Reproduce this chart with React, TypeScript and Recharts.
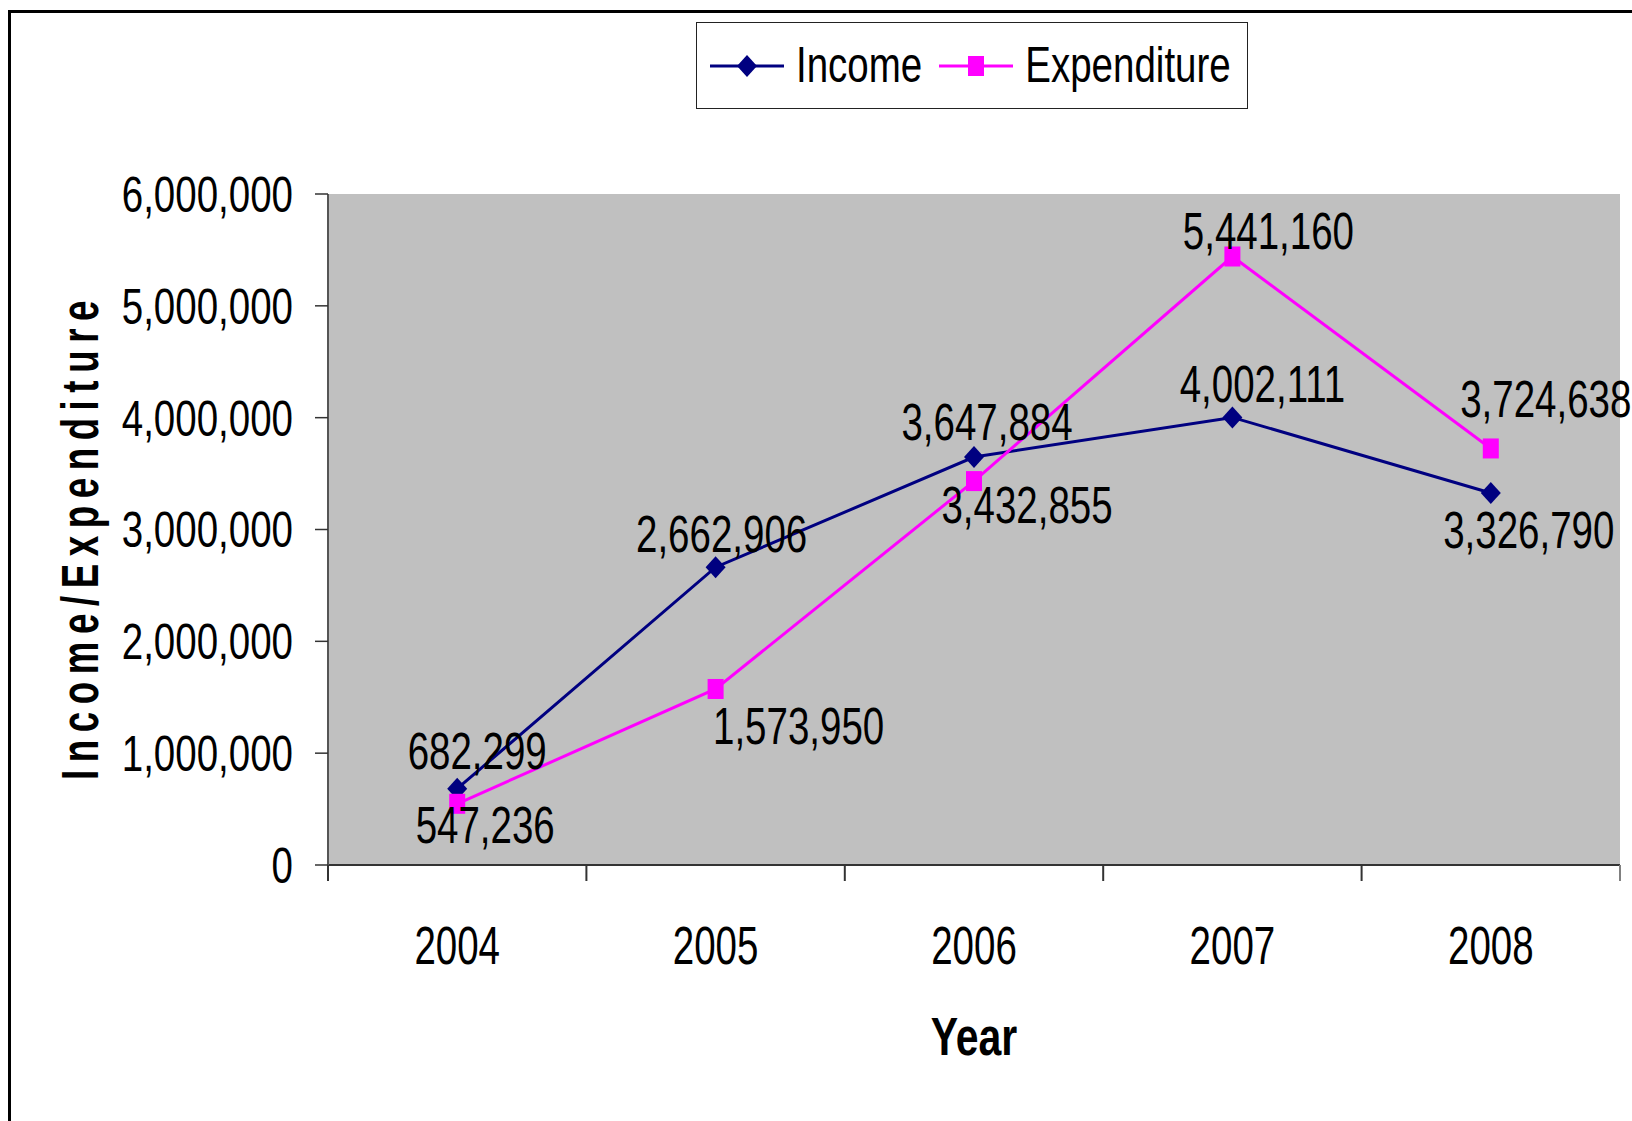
import React from 'react';
import { LineChart, Line, XAxis, YAxis, CartesianGrid, Legend, LabelList, Label } from 'recharts';

const years = ['2004', '2005', '2006', '2007', '2008'];
const income = [682299, 2662906, 3647884, 4002111, 3326790];
const expenditure = [547236, 1573950, 3432855, 5441160, 3724638];
const yTicks = [0, 1000000, 2000000, 3000000, 4000000, 5000000, 6000000];
const seriesOrder = ['income', 'expenditure'];

// label centre offsets (px) from each point
const incomeLabelOffsets = [[20, -38], [6, -34], [13, -36], [30, -34], [38, 37]];
const expenditureLabelOffsets = [[28, 21], [83, 37], [53, 23], [36, -26], [55, -50]];

const data = years.map((year, i) => ({ year, income: income[i], expenditure: expenditure[i] }));

const FONT = '"Liberation Sans", Arial, Helvetica, sans-serif';
const FS = 38.5;
const INCOME_COLOR = '#000080';
const EXP_COLOR = '#FF00FF';
const AXIS_COLOR = '#333333';
const BORDER_COLOR = '#808080';

const fmt = (v: number) => Number(v).toLocaleString('en-US');

function StretchText({ x, y, anchor = 'middle', children, bold = false, size = FS, sy = 1.32 }: any) {
  const cap = 0.716 * size * sy;
  return (
    <text
      transform={`translate(${x},${y + cap / 2}) scale(1,${sy})`}
      textAnchor={anchor}
      fontFamily={FONT}
      fontSize={size}
      fontWeight={bold ? 'bold' : 'normal'}
      fill="#000"
    >
      {children}
    </text>
  );
}

const YTick = (props: any) => {
  const { x, y, payload } = props;
  return <StretchText x={x} y={y} anchor="end" sy={1.3}>{fmt(payload.value)}</StretchText>;
};

const XTick = (props: any) => {
  const { x, y, payload, index } = props;
  const off = payload && typeof payload.offset === 'number' && payload.offset > 0 ? payload.offset : 129.2;
  const axisY = y - 16;
  return (
    <g>
      <line x1={x - off} x2={x - off} y1={axisY} y2={axisY + 16} stroke={AXIS_COLOR} strokeWidth={2} />
      {index === years.length - 1 && (
        <line x1={x + off} x2={x + off} y1={axisY} y2={axisY + 16} stroke={BORDER_COLOR} strokeWidth={2} />
      )}
      <StretchText x={x} y={axisY + 80} sy={1.4}>{payload.value}</StretchText>
    </g>
  );
};

const Diamond = ({ cx, cy, color = INCOME_COLOR }: any) => {
  if (cx == null || cy == null) return null;
  return <path d={`M${cx},${cy - 11} L${cx + 10},${cy} L${cx},${cy + 11} L${cx - 10},${cy} Z`} fill={color} />;
};

const Square = ({ cx, cy, color = EXP_COLOR }: any) => {
  if (cx == null || cy == null) return null;
  return <rect x={cx - 8} y={cy - 10} width={16} height={20} fill={color} />;
};

const makeLabel = (offsets: number[][]) => (props: any) => {
  const { x, y, value, index } = props;
  const o = offsets[index] || [0, -30];
  return <StretchText x={x + o[0]} y={y + o[1]} sy={1.34}>{fmt(value)}</StretchText>;
};

const YTitle = (props: any) => {
  const vb = props.viewBox || { x: 0, y: 194, width: 328, height: 671 };
  const cy = vb.y + vb.height / 2 + 3 + 4;
  return (
    <text
      transform={`translate(${vb.x + 98},${cy}) rotate(-90) scale(0.72,1)`}
      textAnchor="middle"
      fontFamily={FONT}
      fontSize={51}
      fontWeight="bold"
      letterSpacing={10.5}
      fill="#000"
    >
      Income/Expenditure
    </text>
  );
};

const XTitle = (props: any) => {
  const vb = props.viewBox || { x: 328, y: 865, width: 1292, height: 256 };
  return <StretchText x={vb.x + vb.width / 2} y={vb.y + 171} bold size={41} sy={1.32}>Year</StretchText>;
};

const renderLegend = (props: any) => {
  const payload = [...(props.payload || [])].sort(
    (a: any, b: any) => seriesOrder.indexOf(a.dataKey) - seriesOrder.indexOf(b.dataKey)
  );
  return (
    <div
      style={{
        boxSizing: 'border-box',
        width: 552,
        height: 87,
        border: '1.5px solid #222',
        background: '#fff',
        display: 'flex',
        alignItems: 'center',
        paddingLeft: 13,
      }}
    >
      {payload.map((entry: any, i: number) => {
        const isIncome = entry.dataKey === 'income';
        const color = isIncome ? INCOME_COLOR : EXP_COLOR;
        return (
          <React.Fragment key={i}>
            <svg width={74} height={30} style={{ marginLeft: i === 0 ? 0 : 17, display: 'block' }}>
              <line x1={0} x2={74} y1={15} y2={15} stroke={color} strokeWidth={3} />
              {isIncome ? <Diamond cx={37} cy={15} /> : <Square cx={37} cy={15} />}
            </svg>
            <span
              style={{
                marginLeft: 12,
                fontFamily: FONT,
                fontSize: FS,
                lineHeight: 1,
                display: 'inline-block',
                transform: 'scaleY(1.3)',
                color: '#000',
              }}
            >
              {entry.value}
            </span>
          </React.Fragment>
        );
      })}
    </div>
  );
};

export default function App() {
  return (
    <div style={{ position: 'absolute', left: 0, top: 0, width: 1632, height: 1121, background: '#fff', overflow: 'hidden' }}>
      <div
        style={{
          position: 'absolute',
          left: 8,
          top: 10,
          right: 0,
          bottom: 0,
          borderLeft: '3.5px solid #000',
          borderTop: '3.5px solid #000',
        }}
      />
      <div style={{ position: 'absolute', left: 0, top: 0 }}>
        <LineChart width={1632} height={1121} data={data} margin={{ top: 194, right: 12, bottom: 0, left: 0 }}>
          <CartesianGrid fill="#C0C0C0" horizontal={false} vertical={false} />
          <XAxis
            dataKey="year"
            scale="band"
            height={256}
            axisLine={{ stroke: AXIS_COLOR, strokeWidth: 2 }}
            tickLine={false}
            tickSize={16}
            tickMargin={0}
            tick={<XTick />}
            interval={0}
          >
            <Label content={<XTitle />} />
          </XAxis>
          <XAxis
            xAxisId="top"
            dataKey="year"
            scale="band"
            orientation="top"
            height={0}
            tick={false}
            tickLine={false}
            axisLine={{ stroke: BORDER_COLOR, strokeWidth: 2 }}
          />
          <YAxis
            width={328}
            domain={[0, 6000000]}
            ticks={yTicks}
            interval={0}
            axisLine={{ stroke: '#555', strokeWidth: 2 }}
            tickLine={{ stroke: AXIS_COLOR, strokeWidth: 1.5 }}
            tickSize={13}
            tickMargin={22}
            tick={<YTick />}
          >
            <Label content={<YTitle />} />
          </YAxis>
          <YAxis
            yAxisId="right"
            orientation="right"
            width={0}
            domain={[0, 6000000]}
            ticks={yTicks}
            tick={false}
            tickLine={false}
            axisLine={{ stroke: BORDER_COLOR, strokeWidth: 2 }}
          />
          <Legend
            layout="horizontal"
            verticalAlign="middle"
            align="center"
            content={renderLegend}
            wrapperStyle={{ top: 22, left: 696, width: 552, height: 87 }}
          />
          <Line
            type="linear"
            dataKey="income"
            name="Income"
            stroke={INCOME_COLOR}
            strokeWidth={3}
            dot={<Diamond />}
            activeDot={false}
            isAnimationActive={false}
          >
            <LabelList dataKey="income" content={makeLabel(incomeLabelOffsets)} />
          </Line>
          <Line
            type="linear"
            dataKey="expenditure"
            name="Expenditure"
            stroke={EXP_COLOR}
            strokeWidth={3}
            dot={<Square />}
            activeDot={false}
            isAnimationActive={false}
          >
            <LabelList dataKey="expenditure" content={makeLabel(expenditureLabelOffsets)} />
          </Line>
        </LineChart>
      </div>
    </div>
  );
}
